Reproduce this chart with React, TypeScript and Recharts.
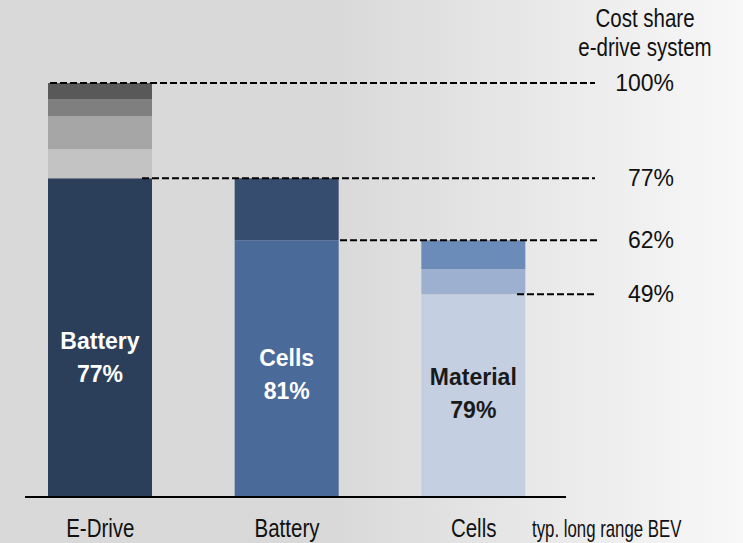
import React from 'react';
import { BarChart, Bar, XAxis, YAxis, ReferenceLine, LabelList, Cell } from 'recharts';

// values (share of e-drive system cost, %)
const CATEGORIES = ['E-Drive', 'Battery', 'Cells'];
const BASE = [77, 62, 49];
const SEG2 = [7, 15, 6];
const SEG3 = [8, 0, 7];
const SEG4 = [4, 0, 0];
const SEG5 = [4, 0, 0];
const LABEL_NAMES = ['Battery', 'Cells', 'Material'];
const LABEL_SHARES = [77, 81, 79];
const LEVELS = [100, 77, 62, 49];

const BASE_COLORS = ['#2c3f5a', '#4a6a9a', '#c4cfe1'];
const SEG2_COLORS = ['#c3c3c3', '#364d6f', '#9db0cf'];
const SEG3_COLORS = ['#a6a6a6', '#364d6f', '#6b8bb9'];
const SEG4_COLORS = ['#7f7f7f', '#7f7f7f', '#7f7f7f'];
const SEG5_COLORS = ['#595959', '#595959', '#595959'];
const LABEL_COLORS = ['#ffffff', '#ffffff', '#1a1a1a'];
const LABEL_NUDGE = [19, 5, -3];

// where each dashed guide starts / ends (px)
const GUIDE_SPAN: Record<number, [number, number]> = {
  100: [50, 595],
  77: [142, 595],
  62: [340, 597],
  49: [517, 597],
};

const SANS = '"Liberation Sans", Arial, sans-serif';

const data = CATEGORIES.map((name, i) => ({
  name,
  base: BASE[i],
  s2: SEG2[i],
  s3: SEG3[i],
  s4: SEG4[i],
  s5: SEG5[i],
}));

// no condensed face installed, so squeeze Liberation Sans horizontally
const Narrow = ({ x, y, anchor = 'start', size = 25, squeeze = 0.82, children }: any) => (
  <text
    transform={`translate(${x},${y}) scale(${squeeze},1)`}
    textAnchor={anchor}
    fontFamily={SANS}
    fontSize={size}
    fill="#111"
  >
    {children}
  </text>
);

const Tick = (props: any) => {
  const { x, y, payload } = props;
  return (
    <Narrow x={x} y={y + 40} anchor="middle">
      {payload.value}
    </Narrow>
  );
};

const BarLabel = (props: any) => {
  const { x, y, width, height, value } = props;
  const i = CATEGORIES.indexOf(value);
  if (i < 0) return null;
  const cx = x + width / 2;
  const cy = y + height / 2 + LABEL_NUDGE[i];
  return (
    <g fontFamily={SANS} fontWeight={700} fontSize={23} fill={LABEL_COLORS[i]} textAnchor="middle">
      <text x={cx} y={cy - 8}>{LABEL_NAMES[i]}</text>
      <text x={cx} y={cy + 25}>{LABEL_SHARES[i]}%</text>
    </g>
  );
};

const guideShape = (level: number) => (props: any) => {
  const y = props.y1;
  const [a, b] = GUIDE_SPAN[level];
  return (
    <g>
      <line x1={a} x2={b} y1={y} y2={y} stroke="#000" strokeWidth={2} strokeDasharray="7 3" />
      <text x={674} y={y + 8} textAnchor="end" fontFamily={SANS} fontSize={23} fill="#111">
        {level}%
      </text>
    </g>
  );
};

const baseline = (props: any) => (
  <line x1={25} x2={566} y1={props.y1} y2={props.y1} stroke="#000" strokeWidth={2} />
);

export default function App() {
  return (
    <div
      style={{
        position: 'absolute',
        left: 0,
        top: 0,
        width: 743,
        height: 543,
        background: 'linear-gradient(to right, #d9d9d9 0%, #d9d9d9 45%, #f8f8f8 100%)',
        overflow: 'hidden',
      }}
    >
      <BarChart
        width={743}
        height={543}
        data={data}
        margin={{ top: 83, right: 176, bottom: 0, left: 7 }}
        barSize={104}
      >
        <XAxis
          dataKey="name"
          height={46}
          axisLine={false}
          tickLine={false}
          tickSize={0}
          tickMargin={0}
          tick={<Tick />}
          interval={0}
        />
        <YAxis hide domain={[0, 100]} />
        <Bar dataKey="base" stackId="a" isAnimationActive={false}>
          {data.map((d, i) => (
            <Cell key={d.name} fill={BASE_COLORS[i]} />
          ))}
          <LabelList dataKey="name" content={<BarLabel />} />
        </Bar>
        <Bar dataKey="s2" stackId="a" isAnimationActive={false}>
          {data.map((d, i) => (
            <Cell key={d.name} fill={SEG2_COLORS[i]} />
          ))}
        </Bar>
        <Bar dataKey="s3" stackId="a" isAnimationActive={false}>
          {data.map((d, i) => (
            <Cell key={d.name} fill={SEG3_COLORS[i]} />
          ))}
        </Bar>
        <Bar dataKey="s4" stackId="a" isAnimationActive={false}>
          {data.map((d, i) => (
            <Cell key={d.name} fill={SEG4_COLORS[i]} />
          ))}
        </Bar>
        <Bar dataKey="s5" stackId="a" isAnimationActive={false}>
          {data.map((d, i) => (
            <Cell key={d.name} fill={SEG5_COLORS[i]} />
          ))}
        </Bar>
        <ReferenceLine y={0} ifOverflow="visible" shape={baseline} />
        {LEVELS.map((lv) => (
          <ReferenceLine key={lv} y={lv} ifOverflow="visible" shape={guideShape(lv)} />
        ))}
      </BarChart>
      <svg
        width={743}
        height={543}
        style={{ position: 'absolute', left: 0, top: 0, pointerEvents: 'none' }}
      >
        <Narrow x={645} y={27} anchor="middle">Cost share</Narrow>
        <Narrow x={645} y={56} anchor="middle">e-drive system</Narrow>
        <Narrow x={532} y={537} size={24} squeeze={0.7}>typ. long range BEV</Narrow>
      </svg>
    </div>
  );
}
